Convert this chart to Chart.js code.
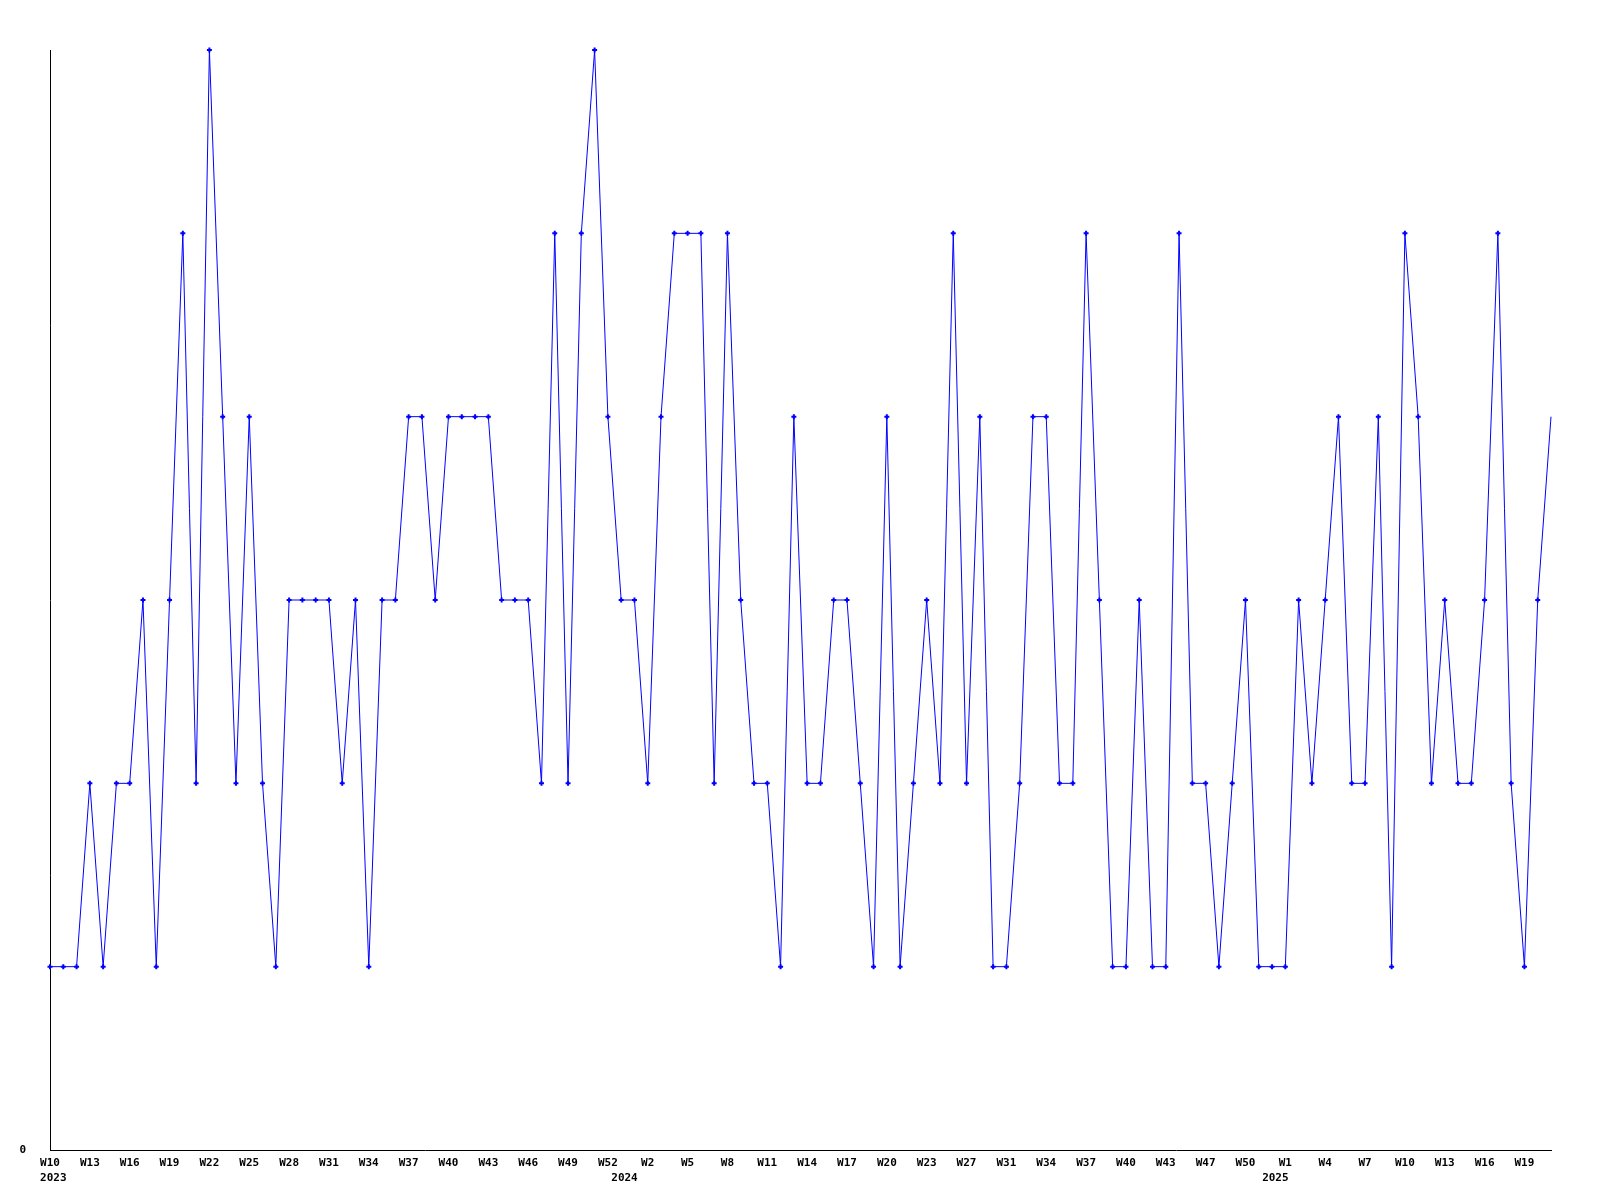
<!DOCTYPE html>
<html lang="en">
<head>
  <meta charset="UTF-8" />
  <title>Weekly chart</title>
  <script src="https://cdn.jsdelivr.net/npm/chart.js"></script>
  <style>
    body {
      margin: 0;
      padding: 0;
      background: #fff;
    }

    .chart-container {
      width: 1600px;
      height: 1200px;
    }
  </style>
</head>
<body>
  <div class="chart-container">
    <canvas id="weeklyChart"></canvas>
  </div>

  <script>
    // week numbers per year (a few weeks of 2024 are absent from the data)
    const weeks2023 = ['W10','W11','W12','W13','W14','W15','W16','W17','W18','W19','W20','W21','W22','W23','W24','W25','W26','W27','W28','W29','W30','W31','W32','W33','W34','W35','W36','W37','W38','W39','W40','W41','W42','W43','W44','W45','W46','W47','W48','W49','W50','W51','W52','W53'];
    const weeks2024 = ['W1','W2','W3','W4','W5','W6','W7','W8','W9','W10','W11','W12','W13','W14','W15','W16','W17','W18','W19','W20','W21','W22','W23','W24','W26','W27','W28','W30','W31','W32','W33','W34','W35','W36','W37','W38','W39','W40','W41','W42','W43','W44','W46','W47','W48','W49','W50','W51','W52'];
    const weeks2025 = ['W1','W2','W3','W4','W5','W6','W7','W8','W9','W10','W11','W12','W13','W14','W15','W16','W17','W18','W19','W20','W21'];
    const years = ['2023', '2024', '2025'];

    // weekly counts
    const values = [
      1, 1, 1, 2, 1, 2, 2, 3, 1, 3, 5, 2, 6, 4, 2, 4, 2, 1, 3, 3, 3, 3,
      2, 3, 1, 3, 3, 4, 4, 3, 4, 4, 4, 4, 3, 3, 3, 2, 5, 2, 5, 6, 4, 3,
      3, 2, 4, 5, 5, 5, 2, 5, 3, 2, 2, 1, 4, 2, 2, 3, 3, 2, 1, 4, 1, 2,
      3, 2, 5, 2, 4, 1, 1, 2, 4, 4, 2, 2, 5, 3, 1, 1, 3, 1, 1, 5, 2, 2,
      1, 2, 3, 1, 1, 1, 3, 2, 3, 4, 2, 2, 4, 1, 5, 4, 2, 3, 2, 2, 3, 5, 2, 1, 3, 4
    ];

    const labels = weeks2023.concat(weeks2024, weeks2025);
    const yearSizes = [weeks2023.length, weeks2024.length, weeks2025.length];

    const axisFont = { family: '"DejaVu Sans Mono", "Liberation Mono", monospace', size: 11, weight: 'bold' };

    // year captions under the week labels
    const yearRowPlugin = {
      id: 'yearRow',
      afterDraw(chart) {
        const x = chart.scales.x;
        const ctx = chart.ctx;
        ctx.save();
        ctx.font = 'bold 11px "DejaVu Sans Mono", "Liberation Mono", monospace';
        ctx.fillStyle = '#000';
        ctx.textAlign = 'center';
        ctx.textBaseline = 'top';
        let start = 0;
        years.forEach((year, i) => {
          const pos = i === 0 ? 0.25 : start - 0.75;
          ctx.fillText(year, x.getPixelForValue(pos), x.top + 23);
          start += yearSizes[i];
        });
        ctx.restore();
      }
    };

    const ctx = document.getElementById('weeklyChart').getContext('2d');
    new Chart(ctx, {
      type: 'line',
      data: {
        labels: labels,
        datasets: [{
          data: values,
          borderColor: '#0000ff',
          backgroundColor: '#0000ff',
          borderWidth: 1,
          fill: false,
          tension: 0,
          clip: false,
          pointStyle: 'cross',
          pointRadius: c => c.dataIndex === values.length - 1 ? 0 : 2.5,
          pointBorderWidth: 2,
          pointBorderColor: '#0000ff'
        }]
      },
      options: {
        responsive: true,
        maintainAspectRatio: false,
        animation: false,
        layout: { padding: { top: 50, right: 49, left: 0, bottom: 0 } },
        plugins: {
          legend: { display: false },
          tooltip: { enabled: false }
        },
        scales: {
          x: {
            offset: false,
            grid: { display: false, drawTicks: false },
            border: { display: true, color: '#000', width: 1 },
            ticks: {
              autoSkip: false,
              maxRotation: 0,
              minRotation: 0,
              padding: 7,
              color: '#000',
              font: axisFont,
              callback: function (val, idx) {
                return idx % 3 === 0 ? labels[idx] : '';
              }
            },
            afterFit: s => { s.height = 50; }
          },
          y: {
            min: 0,
            max: 6,
            grid: { display: false, drawTicks: false },
            border: { display: true, color: '#000', width: 1 },
            ticks: {
              stepSize: 1,
              padding: 24,
              color: '#000',
              font: axisFont,
              callback: v => v === 0 ? '0' : ''
            },
            afterFit: s => { s.width = 50; }
          }
        }
      },
      plugins: [yearRowPlugin]
    });
  </script>
</body>
</html>
